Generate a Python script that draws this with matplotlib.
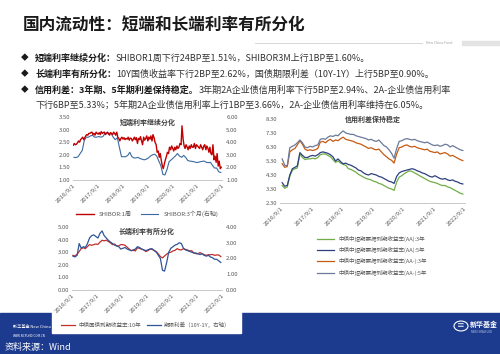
import matplotlib
matplotlib.use("Agg")
import matplotlib.pyplot as plt
from matplotlib.patches import Rectangle, Circle
from matplotlib.text import Annotation
import pandas as pd

plt.rcParams['font.family'] = ['Noto Sans CJK SC', 'DejaVu Sans']

# ---------------- data ----------------
tick_dates = pd.to_datetime(['2016-09-01', '2017-09-01', '2018-09-01', '2019-09-01',
                             '2020-09-01', '2021-09-01', '2022-09-01'])
tick_labels = ['2016/9/1', '2017/9/1', '2018/9/1', '2019/9/1',
               '2020/9/1', '2021/9/1', '2022/9/1']

months = pd.date_range('2016-09-01', periods=72, freq='MS') + pd.Timedelta(days=14)
half_months = pd.date_range('2016-09-01', periods=144, freq='SMS') + pd.Timedelta(days=6)

shibor_1w = [2.38, 2.45, 2.40, 2.42, 2.48, 2.55, 2.50, 2.60,
             2.65, 2.70, 2.60, 2.68, 2.75, 2.80, 2.78, 2.85, 2.85, 2.88, 2.90, 2.80,
             2.85, 2.78, 2.90, 2.85, 2.82, 2.88, 2.80, 2.92, 2.85, 2.88, 2.90, 2.80,
             2.85, 2.90, 2.82, 2.78, 2.88, 2.85, 2.80, 2.90, 2.85, 2.78, 2.90, 2.70,
             2.65, 2.55, 2.65, 2.70, 2.62, 2.68, 2.60, 2.65, 2.62, 2.70, 2.58, 2.66,
             2.65, 2.55, 2.62, 2.70, 2.60, 2.68, 2.45, 2.65, 2.60, 2.72, 2.55, 2.40,
             2.70, 2.58, 2.65, 2.75, 2.55, 2.70, 2.62, 2.75, 2.55, 2.80, 2.68, 2.50,
             2.40, 2.10, 2.15, 1.90, 2.05, 1.80, 1.55, 1.45, 1.65, 1.80, 1.95, 2.10,
             2.05, 2.30, 2.20, 2.35, 2.25, 2.15, 2.30, 2.20, 2.35, 2.25, 2.30, 2.45,
             2.40, 3.15, 2.60, 2.35, 2.25, 2.40, 2.30, 2.20, 2.35, 2.25, 2.40, 2.30,
             2.30, 2.45, 2.25, 2.40, 2.35, 2.30, 2.25, 2.40, 2.30, 2.20, 2.35, 2.40,
             2.20, 2.35, 2.25, 2.10, 2.30, 2.05, 2.00, 2.40, 1.80, 1.95, 1.70, 2.05,
             1.55, 1.75, 1.45, 1.51]

shibor_3m = [2.80, 2.78, 2.85, 3.10,
             3.35, 4.15, 4.40, 4.40, 4.50, 4.55, 4.40, 4.40, 4.45, 4.40, 4.45, 4.70,
             4.75, 4.70, 4.70, 4.40, 4.20, 4.35, 3.60, 2.85, 2.85, 2.85, 2.95, 3.20,
             2.85, 2.75, 2.75, 2.80, 2.70, 2.65, 2.60, 2.65, 2.75, 2.90, 3.00, 3.05,
             2.90, 2.50, 2.15, 1.45, 1.40, 1.85, 2.45, 2.60, 2.75, 2.90, 3.10, 2.90,
             2.80, 2.95, 2.80, 2.55, 2.50, 2.48, 2.45, 2.40, 2.40, 2.45, 2.48, 2.50,
             2.40, 2.38, 2.40, 2.15, 1.95, 1.95, 1.65, 1.60]

cgb_10y = [2.75, 2.70, 2.85, 3.05,
           3.30, 3.35, 3.28, 3.45, 3.60, 3.55, 3.60, 3.65, 3.62, 3.80, 3.95, 3.90,
           3.95, 3.85, 3.75, 3.60, 3.65, 3.50, 3.50, 3.60, 3.60, 3.55, 3.40, 3.25,
           3.12, 3.15, 3.10, 3.35, 3.30, 3.25, 3.18, 3.05, 3.12, 3.25, 3.22, 3.15,
           3.05, 2.85, 2.65, 2.55, 2.70, 2.85, 2.95, 3.00, 3.10, 3.15, 3.28, 3.20,
           3.18, 3.28, 3.22, 3.18, 3.10, 3.12, 2.95, 2.88, 2.88, 2.97, 2.88, 2.80,
           2.75, 2.80, 2.80, 2.82, 2.75, 2.78, 2.78, 2.65]

term_spread = [2.15, 2.10, 2.20, 2.95,
               2.65, 2.75, 2.70, 2.95, 3.30, 3.45, 3.50, 3.40, 3.30, 3.60, 3.75, 3.45,
               3.30, 3.15, 3.05, 2.95, 2.85, 2.80, 2.75, 2.60, 2.65, 2.70, 2.60, 2.55,
               2.50, 2.55, 2.60, 2.75, 2.70, 2.60, 2.55, 2.50, 2.55, 2.60, 2.62, 2.50,
               2.40, 2.20, 2.00, 1.25, 1.20, 1.75, 2.40, 2.65, 2.75, 2.85, 2.90, 3.00,
               2.95, 2.65, 2.55, 2.50, 2.45, 2.40, 2.35, 2.35, 2.30, 2.25, 2.30, 2.20,
               2.15, 2.20, 2.10, 2.05, 1.95, 1.95, 1.85, 1.75]

mtn_aa_3y = [3.55, 3.35, 3.45, 4.20, 4.65, 4.75, 4.80, 5.80, 5.55, 5.40, 5.45, 5.45,
             5.50, 5.45, 5.55, 5.75, 5.80, 5.80, 5.70, 5.60, 5.40, 5.20, 5.30, 5.15,
             5.05, 5.00, 4.75, 4.70, 4.60, 4.50, 4.35, 4.25, 4.15, 4.05, 4.00, 3.95,
             3.85, 3.80, 3.70, 3.65, 3.55, 3.45, 3.35, 3.30, 3.20, 3.80, 4.15, 4.25,
             4.40, 4.50, 4.60, 4.55, 4.45, 4.35, 4.25, 4.15, 4.05, 3.95, 3.85, 3.80,
             3.75, 3.70, 3.60, 3.55, 3.55, 3.45, 3.40, 3.30, 3.20, 3.10, 3.00, 2.94]

mtn_aa_5y = [3.75, 3.50, 3.55, 4.30, 4.75, 4.85, 4.95, 5.90, 5.70, 5.55, 5.55, 5.65,
             5.70, 5.65, 5.75, 5.90, 5.95, 5.90, 5.85, 5.75, 5.60, 5.30, 5.45, 5.25,
             5.10, 5.15, 5.05, 5.00, 4.90, 4.80, 4.65, 4.60, 4.45, 4.35, 4.30, 4.40,
             4.35, 4.30, 4.20, 4.15, 4.05, 3.95, 3.85, 3.80, 3.70, 4.20, 4.45, 4.55,
             4.60, 4.65, 4.70, 4.75, 4.70, 4.60, 4.55, 4.45, 4.40, 4.30, 4.20, 4.15,
             4.25, 4.15, 4.05, 4.00, 4.05, 3.95, 3.90, 3.95, 3.85, 3.80, 3.70, 3.66]

mtn_aam_3y = [5.10, 4.85, 4.90, 5.95, 6.10, 6.20, 6.45, 6.75, 6.50, 6.15, 6.05, 6.10,
              6.05, 6.10, 6.20, 6.65, 6.70, 6.60, 6.75, 6.85, 6.70, 6.80, 6.75, 6.90,
              7.00, 6.85, 6.80, 6.75, 6.70, 6.60, 6.55, 6.50, 6.40, 6.30, 6.20, 6.25,
              6.15, 6.10, 6.15, 5.95, 5.75, 5.60, 5.45, 5.35, 5.15, 5.80, 6.25, 6.30,
              6.40, 6.45, 6.35, 6.30, 6.35, 6.25, 6.20, 6.15, 6.10, 6.15, 6.00, 5.95,
              5.90, 5.95, 5.80, 5.85, 5.90, 5.80, 5.65, 5.70, 5.60, 5.50, 5.40, 5.33]

mtn_aam_5y = [5.45, 5.00, 4.95, 6.25, 6.35, 6.45, 6.60, 6.80, 6.60, 6.30, 6.25, 6.35,
              6.30, 6.40, 6.45, 6.85, 6.90, 6.85, 7.00, 7.10, 7.05, 7.15, 7.10, 7.30,
              7.45, 7.30, 7.25, 7.20, 7.20, 7.10, 7.05, 7.00, 6.95, 6.90, 6.80, 6.85,
              6.75, 6.70, 6.80, 6.60, 6.40, 6.30, 6.10, 5.85, 5.50, 6.20, 6.70, 6.75,
              6.85, 6.90, 6.85, 6.80, 6.85, 6.75, 6.70, 6.65, 6.60, 6.65, 6.55, 6.45,
              6.40, 6.45, 6.35, 6.40, 6.50, 6.45, 6.30, 6.40, 6.30, 6.20, 6.10, 6.05]

W, H = 500, 354
TXT = '#595959'


def fx(x):
    return x / W


def fy(y):
    return 1 - y / H


def style_axes(ax, twin=None):
    for s in ['top', 'left', 'right']:
        ax.spines[s].set_visible(False)
    ax.spines['bottom'].set_color('#bfbfbf')
    ax.spines['bottom'].set_linewidth(0.6)
    ax.tick_params(length=0, labelsize=4.3, labelcolor=TXT, pad=2)
    ax.set_xticks(tick_dates)
    ax.set_xticklabels(tick_labels, rotation=45, ha='right', rotation_mode='anchor')
    ax.yaxis.set_major_formatter('{x:.2f}')
    if twin is not None:
        for s in twin.spines.values():
            s.set_visible(False)
        twin.tick_params(length=0, labelsize=4.3, labelcolor=TXT, pad=3)
        twin.yaxis.set_major_formatter('{x:.2f}')


fig = plt.figure(figsize=(5, 3.54), dpi=100)

# footer band and white panel
fig.patches.append(Rectangle((0, 0), 1, fy(313), transform=fig.transFigure,
                             color='#1d3b8e', zorder=0))
fig.patches.append(Rectangle((fx(52), fy(333)), fx(241 - 52), fy(200) - fy(333),
                             transform=fig.transFigure, color='white', zorder=1))

# header
fig.text(fx(23), fy(25), '国内流动性：短端和长端利率有所分化', fontsize=12,
         fontweight='bold', color='#1a1a1a', va='center', ha='left')
fig.add_artist(plt.Line2D([fx(255), fx(422)], [fy(43), fy(43)], color='#d0d0d0', lw=0.6))
fig.text(fx(426), fy(43), 'New China Fund', fontsize=2.5, color='#a0a0a0', va='center')
fig.patches.append(Rectangle((fx(462), fy(45)), fx(38), fy(41) - fy(45),
                             transform=fig.transFigure, color='#e3e3e3', zorder=1))

bullets = [
    ('短端利率继续分化：', 'SHIBOR1周下行24BP至1.51%，SHIBOR3M上行1BP至1.60%。'),
    ('长端利率有所分化：', '10Y国债收益率下行2BP至2.62%，国债期限利差（10Y-1Y）上行5BP至0.90%。'),
    ('信用利差：3年期、5年期利差保持稳定。', '3年期2A企业债信用利率下行5BP至2.94%、2A-企业债信用利率'),
]
for i, (bold, rest) in enumerate(bullets):
    y = fy(58 + 16 * i)
    fig.text(fx(25), y, '◆', fontsize=5.5, color='#1a1a1a', va='center', ha='center')
    t = fig.text(fx(35), y, bold, fontsize=6.5, fontweight='bold', color='#1a1a1a',
                 va='center')
    fig.add_artist(Annotation(rest, xy=(1, 0.5), xycoords=t, va='center', ha='left',
                              fontsize=6.5, color='#333333'))
fig.text(fx(35), fy(105), '下行6BP至5.33%；5年期2A企业债信用利率上行1BP至3.66%，2A-企业债信用利率维持在6.05%。',
         fontsize=6.5, color='#333333', va='center')

# chart 1: short-end rates
ax1 = fig.add_axes([fx(73), fy(180), fx(149), fy(117) - fy(180)], zorder=3)
ax1b = ax1.twinx()
l1, = ax1.plot(half_months, shibor_1w, color='#c00000', lw=1.0)
l2, = ax1b.plot(months, shibor_3m, color='#3b6aa0', lw=0.8)
ax1.set_zorder(ax1b.get_zorder() + 1)
ax1.patch.set_visible(False)
ax1.set_ylim(1.0, 3.5)
ax1.set_yticks([1.0, 1.5, 2.0, 2.5, 3.0, 3.5])
ax1b.set_ylim(1.0, 6.0)
ax1b.set_yticks([1, 2, 3, 4, 5, 6])
ax1.set_xlim(pd.Timestamp('2016-09-01'), pd.Timestamp('2022-09-01'))
style_axes(ax1, ax1b)
ax1.text(0.5, 0.98, '短端利率继续分化', transform=ax1.transAxes, ha='center', va='top',
         fontsize=5, fontweight='bold', color='#404040')
fig.legend([l1, l2], ['SHIBOR:1周', 'SHIBOR:3个月(右轴)'], loc='center',
           bbox_to_anchor=(fx(147), fy(214)), ncol=2, frameon=False, fontsize=4.3,
           handlelength=3, columnspacing=1.5, labelcolor=TXT)

# chart 2: long-end rates
ax2 = fig.add_axes([fx(72), fy(290), fx(150), fy(227) - fy(290)], zorder=3)
ax2b = ax2.twinx()
l3, = ax2.plot(months, cgb_10y, color='#c0302a', lw=0.9)
l4, = ax2b.plot(months, term_spread, color='#2f5597', lw=0.9)
ax2.set_ylim(0, 5)
ax2.set_yticks([0, 1, 2, 3, 4, 5])
ax2b.set_ylim(0, 4)
ax2b.set_yticks([0, 1, 2, 3, 4])
ax2.set_xlim(pd.Timestamp('2016-09-01'), pd.Timestamp('2022-09-01'))
style_axes(ax2, ax2b)
ax2.text(0.5, 0.98, '长端利率有所分化', transform=ax2.transAxes, ha='center', va='top',
         fontsize=5, fontweight='bold', color='#404040')
fig.legend([l3, l4], ['中债国债到期收益率:10年', '期限利差（10Y-1Y，右轴）'], loc='center',
           bbox_to_anchor=(fx(146), fy(325)), ncol=2, frameon=False, fontsize=4.0,
           handlelength=2.5, columnspacing=1.2, handletextpad=0.5, labelcolor=TXT)

# chart 3: credit spreads
ax3 = fig.add_axes([fx(280), fy(203), fx(185), fy(119) - fy(203)], zorder=3)
c1, = ax3.plot(months, mtn_aa_3y, color='#70ad47', lw=0.9)
c2, = ax3.plot(months, mtn_aa_5y, color='#2e3f7f', lw=0.9)
c3, = ax3.plot(months, mtn_aam_3y, color='#c55a11', lw=0.9)
c4, = ax3.plot(months, mtn_aam_5y, color='#6b7a99', lw=0.9)
ax3.set_ylim(2.3, 8.3)
ax3.set_yticks([2.3, 3.3, 4.3, 5.3, 6.3, 7.3, 8.3])
ax3.set_xlim(pd.Timestamp('2016-08-20'), pd.Timestamp('2022-09-10'))
style_axes(ax3)
ax3.text(0.5, 1.0, '信用利差保持稳定', transform=ax3.transAxes, ha='center', va='center',
         fontsize=5, fontweight='bold', color='#404040')
fig.legend([c1, c2, c3, c4],
           ['中债中短期票据到期收益率(AA):3年', '中债中短期票据到期收益率(AA):5年',
            '中债中短期票据到期收益率(AA-):3年', '中债中短期票据到期收益率(AA-):5年'],
           loc='upper left', bbox_to_anchor=(fx(312), fy(231)), ncol=1, frameon=False,
           fontsize=4.0, handlelength=3, labelspacing=0.9, labelcolor=TXT)

# footer texts
fig.text(fx(13), fy(327), '新华基金 New China', fontsize=3, color='white', va='center', zorder=0.5)
fig.text(fx(13), fy(336), 'WWW.NCFUND.COM.CN', fontsize=2.2, color='white', va='center', zorder=0.5)
fig.text(fx(5), fy(347), '资料来源：Wind', fontsize=6.5, color='white', va='center')
fig.patches.append(Circle((fx(461), fy(326)), 7 / W, transform=fig.transFigure,
                          fill=False, edgecolor='white', lw=0.8, zorder=2))
fig.text(fx(461), fy(326), '≡', fontsize=5.5, color='white', ha='center', va='center')
fig.text(fx(470), fy(324), '新华基金', fontsize=5, fontweight='bold', color='white',
         va='center')
fig.text(fx(471), fy(332), 'NEW CHINA FUND', fontsize=1.8, color='#c8d0e8', va='center')

fig.savefig('out.png', dpi=100)
